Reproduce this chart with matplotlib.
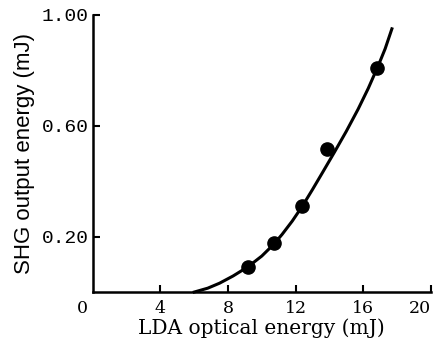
import matplotlib
matplotlib.use("Agg")
import matplotlib.pyplot as plt

# measured points
lda_energy = [9.2, 10.7, 12.4, 13.85, 16.8]
shg_energy = [0.09, 0.177, 0.31, 0.516, 0.81]

# fitted curve
curve_x = [6.0, 6.8, 7.5, 8.3, 9.2, 10.0, 10.7, 11.2, 11.8, 12.4, 13.0, 13.6, 14.3, 15.0, 15.7, 16.3, 16.9, 17.3, 17.7]
curve_y = [0.0, 0.014, 0.032, 0.058, 0.092, 0.13, 0.172, 0.208, 0.256, 0.31, 0.37, 0.432, 0.505, 0.58, 0.66, 0.735, 0.818, 0.878, 0.95]

xticks = [4, 8, 12, 16, 20]
yticks = [0.20, 0.60, 1.00]
ytick_labels = ["0.20", "0.60", "1.00"]

fig = plt.figure(figsize=(4.4, 3.4), dpi=100)
ax = fig.add_axes([0.211, 0.141, 0.768, 0.815])

ax.plot(curve_x, curve_y, color="black", lw=2.2, clip_on=False)
ax.plot(lda_energy, shg_energy, "o", color="black", ms=9.5, clip_on=False)

ax.set_xlim(0, 20)
ax.set_ylim(0, 1.0)
ax.spines["top"].set_visible(False)
ax.spines["right"].set_visible(False)
ax.spines["left"].set_linewidth(1.8)
ax.spines["bottom"].set_linewidth(1.8)

ax.set_xticks(xticks)
ax.set_xticklabels([str(t) for t in xticks], family="DejaVu Serif", fontsize=12.5)
ax.set_yticks(yticks)
ax.set_yticklabels(ytick_labels, family="Liberation Mono", fontsize=14)
ax.tick_params(direction="in", length=5, width=1.5)
ax.tick_params(axis="x", pad=6)
ax.tick_params(axis="y", pad=3)
# last label sits at the right edge, keep it inside
ax.get_xticklabels()[-1].set_horizontalalignment("right")
ax.get_xticklabels()[-1].set_x(20.55)

ax.text(-0.6, -0.03, "0", ha="center", va="top", family="DejaVu Serif", fontsize=12.5)

ax.set_xlabel("LDA optical energy (mJ)", family="DejaVu Serif", fontsize=14.5, labelpad=1)
ax.set_ylabel("SHG output energy (mJ)", family="Liberation Sans", fontsize=16, labelpad=5)

fig.savefig("out.png", dpi=100)
